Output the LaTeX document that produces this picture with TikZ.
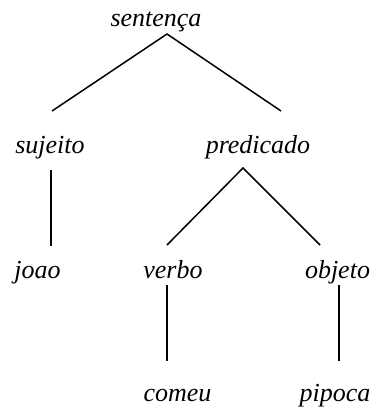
\documentclass[tikz,border=0pt]{standalone}
\usepackage{fontspec}
\setmainfont{Liberation Serif}
\begin{document}
\begin{tikzpicture}[x=1pt,y=-1pt,
  lbl/.style={anchor=base,inner sep=0pt,font=\fontsize{26}{30}\selectfont\itshape},
  edge/.style={line width=1.5pt}]
\useasboundingbox (0,0) rectangle (372,410);
\node[lbl] (s)    at (156,26.5) {sentença};
\node[lbl] (suj)  at (50,153) {sujeito};
\node[lbl] (pred) at (258,153) {predicado};
\node[lbl] (joao) at (37.5,278) {joao};
\node[lbl] (verbo) at (173,278) {verbo};
\node[lbl] (obj)  at (337.5,278) {objeto};
\node[lbl] (comeu) at (177.5,401.5) {comeu};
\node[lbl] (pip)  at (335,401.5) {pipoca};
\coordinate (sT) at (167,34);
\coordinate (sujT) at (52,111);
\coordinate (predT) at (281,111);
\coordinate (sujB) at (51,170);
\coordinate (joaoT) at (51,246);
\coordinate (predB) at (243,168);
\coordinate (verboT) at (167,245);
\coordinate (objT) at (320,245);
\coordinate (verboB) at (167,285);
\coordinate (comeuT) at (167,361);
\coordinate (objB) at (339,285);
\coordinate (pipT) at (339,361);
\draw[edge] (sujT) -- (sT) -- (predT);
\draw[edge] (sujB) -- (joaoT);
\draw[edge] (verboT) -- (predB) -- (objT);
\draw[edge] (verboB) -- (comeuT);
\draw[edge] (objB) -- (pipT);
\end{tikzpicture}
\end{document}
